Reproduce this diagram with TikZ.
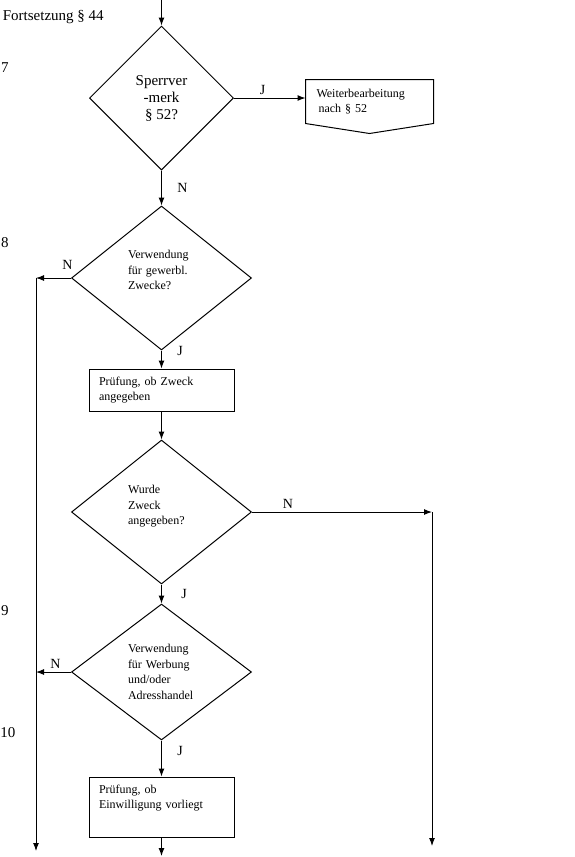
\documentclass[tikz,border=0pt]{standalone}
\usepackage{fontspec}
\setmainfont{Liberation Serif}
\usetikzlibrary{shapes.geometric, arrows.meta}

\begin{document}
\begin{tikzpicture}[x=1pt, y=-1pt, line width=1pt, >={Latex[length=8pt, width=6pt]}]
		\tikzset{raute/.style={diamond, draw=black, inner sep=1pt, text width=67pt, align=left, font=\fontsize{12}{15.5}\selectfont}};
		\tikzset{kasten/.style={rectangle, draw=black, minimum width=145pt, text width=125pt, inner xsep=10pt, align=left, font=\fontsize{12}{15}\selectfont}};
		\tikzset{jn/.style={font=\fontsize{14}{16}\selectfont}};
		\tikzset{nr/.style={font=\fontsize{15}{17}\selectfont}};

		\useasboundingbox (0,0) rectangle (575,857);

		\node[nr, anchor=west] (fort) at (-1, 17) {Fortsetzung § 44};
		\node[nr] (n7) at (5, 68) {7};
		\node[nr] (n8) at (5, 243) {8};
		\node[nr] (n9) at (5, 611) {9};
		\node[nr] (n10) at (8, 733) {10};

		\coordinate (start) at (161.5, 0);
		\node[raute, text width=, align=center, font=\fontsize{15}{17}\selectfont, minimum width=144pt, minimum height=144pt] (sperr) at (161.5, 98) {Sperrver\\-merk\\§ 52?};
		\node[text width=106pt, inner xsep=10pt, minimum width=127pt, minimum height=43pt, align=left, font=\fontsize{12}{15}\selectfont] (weiter) at (369.5, 101.5) {Weiterbearbeitung\\ \,nach § 52};
		\node[raute, minimum width=180pt, minimum height=144pt] (gewerbl) at (161.5, 278) {Verwendung\\für gewerbl.\\Zwecke?\\[0pt]\mbox{}};
		\node[kasten, minimum height=42pt] (pruef1) at (161.5, 390) {Prüfung, ob Zweck\\angegeben};
		\node[raute, minimum width=180pt, minimum height=144pt] (zweck) at (161.5, 512) {Wurde\\Zweck\\angegeben?\\[-2pt]\mbox{}};
		\node[raute, minimum width=180pt, minimum height=136pt] (werbung) at (161.5, 672) {Verwendung\\für Werbung\\und/oder\\Adresshandel};
		\node[kasten, minimum height=60pt] (pruef2) at (161.5, 807) {Prüfung, ob\\Einwilligung vorliegt\\[5pt]\mbox{}};

		\coordinate (linksO) at (36, 278);
		\coordinate (linksU) at (36, 851);
		\coordinate (rechtsO) at (432, 512);
		\coordinate (rechtsU) at (432, 846);
		\coordinate (ende) at (161.5, 856);

		\draw (weiter.north west) -- (weiter.north east) -- (weiter.south east) -- ([yshift=-10pt]weiter.south) -- (weiter.south west) -- cycle;

		\draw[->] (start) to (sperr.north);
		\draw[->] (sperr.east) to node[jn, above, pos=0.4] {J} (sperr.east -| weiter.west);
		\draw[->] (sperr.south) to node[jn, right, xshift=12pt] {N} (gewerbl.north);

		\draw[->] (gewerbl.west) to node[jn, above, pos=0.1, yshift=5pt] {N} (linksO);
		\draw[->] (linksO) to (linksU);
		\draw[->] (gewerbl.south) to node[jn, right, pos=0.05, xshift=12pt] {J} (pruef1.north);

		\draw[->] (pruef1.south) to (zweck.north);

		\draw[->] (zweck.east) to node[jn, above, pos=0.2] {N} (rechtsO);
		\draw[->] (rechtsO) to (rechtsU);
		\draw[->] (zweck.south) to node[jn, right, xshift=16pt] {J} (werbung.north);

		\draw[->] (werbung.west) to node[jn, above, xshift=2pt] {N} (werbung.west -| linksO);
		\draw[->] (werbung.south) to node[jn, right, pos=0.3, xshift=12pt] {J} (pruef2.north);

		\draw[->] (pruef2.south) to (ende);


	\end{tikzpicture}
\end{document}
